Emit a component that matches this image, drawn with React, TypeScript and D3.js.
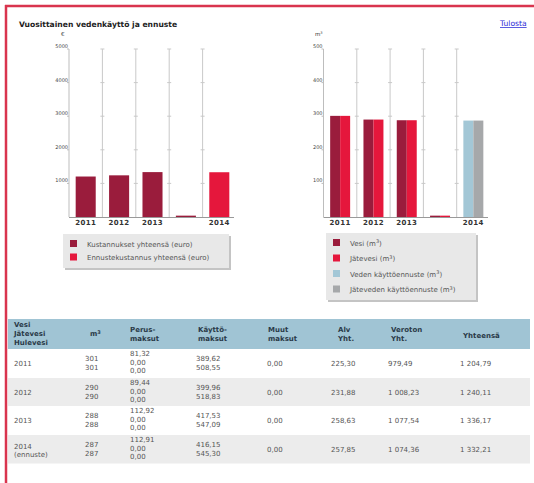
import React from "react";
import * as d3 from "d3";

const W = 534;
const H = 483;

const categories = ["2011", "2012", "2013", "_", "2014"];
const categoryLabels = ["2011", "2012", "2013", "", "2014"];

const costActual = [1204.79, 1240.11, 1336.17, 40, 0];
const costForecast = [0, 0, 0, 0, 1332.21];
const costTicks = [1000, 2000, 3000, 4000, 5000];

const waterVesi = [301, 290, 288, 4, 0];
const waterJatevesi = [301, 290, 288, 4, 0];
const waterVesiForecast = [0, 0, 0, 0, 287];
const waterJateForecast = [0, 0, 0, 0, 287];
const waterTicks = [100, 200, 300, 400, 500];

const costLegend = ["Kustannukset yhteensä (euro)", "Ennustekustannus yhteensä (euro)"];
const waterLegend = ["Vesi (m", "Jätevesi (m", "Veden käyttöennuste (m", "Jäteveden käyttöennuste (m"];

const tableYears = [["2011"], ["2012"], ["2013"], ["2014", "(ennuste)"]];
const tableM3 = [["301", "301"], ["290", "290"], ["288", "288"], ["287", "287"]];
const tablePerus = [["81,32", "0,00", "0,00"], ["89,44", "0,00", "0,00"], ["112,92", "0,00", "0,00"], ["112,91", "0,00", "0,00"]];
const tableKaytto = [["389,62", "508,55"], ["399,96", "518,83"], ["417,53", "547,09"], ["416,15", "545,30"]];
const tableMuut = ["0,00", "0,00", "0,00", "0,00"];
const tableAlv = ["225,30", "231,88", "258,63", "257,85"];
const tableVeroton = ["979,49", "1 008,23", "1 077,54", "1 074,36"];
const tableYhteensa = ["1 204,79", "1 240,11", "1 336,17", "1 332,21"];

const C_DARK = "#9a1c3c";
const C_RED = "#e5173c";
const C_BLUE = "#a3c7d6";
const C_GRAY = "#a6a8aa";
const FONT = "DejaVu Sans, Verdana, sans-serif";

function BarPanel(props: {
  x0: number; x1: number; yTop: number; yBase: number; max: number; ticks: number[];
  unit: React.ReactNode; unitX: number; children: (x: d3.ScaleBand<string>, y: d3.ScaleLinear<number, number>) => React.ReactNode;
}) {
  const { x0, x1, yTop, yBase, max, ticks } = props;
  const x = d3.scaleBand<string>().domain(categories).range([x0, x1]).paddingInner(0.4).paddingOuter(0.2);
  const xb = d3.scaleBand<string>().domain(categories).range([x0, x1]);
  const y = d3.scaleLinear().domain([0, max]).range([yBase, yTop]);
  return (
    <g>
      <text x={props.unitX} y={yTop - 13} fontSize={5.5} fontFamily={FONT} fill="#333">{props.unit}</text>
      {categories.slice(1).map((c) => (
        <line key={c} x1={xb(c)!} x2={xb(c)!} y1={yTop} y2={yBase} stroke="#c9c9c9" strokeWidth={1} />
      ))}
      {categories.slice(1).map((c) =>
        ticks.map((t) => (
          <line key={c + t} x1={xb(c)! - 2} x2={xb(c)! + 2} y1={y(t)} y2={y(t)} stroke="#c9c9c9" strokeWidth={1} />
        ))
      )}
      <line x1={x0} x2={x0} y1={yTop} y2={yBase} stroke="#bdbdbd" strokeWidth={1} />
      {ticks.map((t) => (
        <g key={t}>
          <line x1={x0 - 2} x2={x0} y1={y(t)} y2={y(t)} stroke="#bdbdbd" />
          <text x={x0 - 1} y={y(t) - 1} textAnchor="end" fontSize={5} fontFamily={FONT} fill="#444">{t}</text>
        </g>
      ))}
      {props.children(x, y)}
      <line x1={x0} x2={x1 - 2} y1={yBase + 0.5} y2={yBase + 0.5} stroke="#999" strokeWidth={1} />
      {categories.map((c, i) => (
        <text key={c} x={x(c)! + x.bandwidth() / 2} y={yBase + 7.5} textAnchor="middle" fontSize={7} fontWeight="bold" fontFamily={FONT} fill="#333" letterSpacing={0.4}>
          {categoryLabels[i]}
        </text>
      ))}
    </g>
  );
}

function Legend(props: { x: number; y: number; w: number; h: number; items: string[]; colors: string[]; step: number; sup: boolean }) {
  const { x, y, w, h } = props;
  return (
    <g>
      <rect x={x + 2} y={y + 2} width={w} height={h} fill="#c4c4c4" />
      <rect x={x} y={y} width={w} height={h} fill="#e8e8e8" />
      {props.items.map((t, i) => (
        <g key={t}>
          <rect x={x + 7} y={y + 6 + i * props.step} width={7} height={7} fill={props.colors[i]} />
          <text x={x + 24} y={y + 12.5 + i * props.step} fontSize={7} fontFamily={FONT} fill="#555">
            {t}
            {props.sup ? (
              <>
                <tspan dy={-2.5} fontSize={5}>3</tspan>
                <tspan dy={2.5}>)</tspan>
              </>
            ) : null}
          </text>
        </g>
      ))}
    </g>
  );
}

export default function App() {
  const tableX0 = 8;
  const tableX1 = 530;
  const headTop = 319;
  const headBot = 349;
  const rowTops = [349, 378, 406, 435];
  const rowH = 28.5;
  const txt = { fontSize: 7, fontFamily: FONT, fill: "#555" } as const;
  const hdr = { fontSize: 7, fontFamily: FONT, fill: "#2a3a48", fontWeight: "bold" } as const;

  return (
    <svg width={W} height={H} style={{ position: "absolute", left: 0, top: 0, background: "#fff" }}>
      <rect x={0} y={0} width={W} height={H} fill="#fff" />
      <line x1={5} x2={W} y1={6} y2={6} stroke="#d9344e" strokeWidth={2.5} />
      <line x1={6} x2={6} y1={5} y2={H} stroke="#d9344e" strokeWidth={2.5} />

      <text x={19} y={26.5} fontSize={7.6} fontWeight="bold" fontFamily={FONT} fill="#222">Vuosittainen vedenkäyttö ja ennuste</text>
      <text x={500} y={26} fontSize={7.6} fontFamily={FONT} fill="#2a2ad6" textDecoration="underline">Tulosta</text>

      <BarPanel x0={69} x1={236} yTop={49} yBase={217} max={5000} ticks={costTicks} unit="€" unitX={61}>
        {(x, y) => (
          <g>
            {categories.map((c, i) =>
              costActual[i] > 0 ? (
                <rect key={"a" + c} x={x(c)!} y={y(costActual[i])} width={x.bandwidth()} height={y(0) - y(costActual[i])} fill={C_DARK} />
              ) : null
            )}
            {categories.map((c, i) =>
              costForecast[i] > 0 ? (
                <rect key={"f" + c} x={x(c)!} y={y(costForecast[i])} width={x.bandwidth()} height={y(0) - y(costForecast[i])} fill={C_RED} />
              ) : null
            )}
          </g>
        )}
      </BarPanel>

      <BarPanel x0={323.5} x1={490} yTop={49} yBase={217} max={500} ticks={waterTicks} unit={<>m<tspan dy={-2} fontSize={3.5}>3</tspan></>} unitX={315}>
        {(x, y) => {
          const half = x.bandwidth() / 2;
          const series = [
            { vals: waterVesi, color: C_DARK, off: 0 },
            { vals: waterJatevesi, color: C_RED, off: half },
            { vals: waterVesiForecast, color: C_BLUE, off: 0 },
            { vals: waterJateForecast, color: C_GRAY, off: half },
          ];
          return (
            <g>
              {series.map((s, si) =>
                categories.map((c, i) =>
                  s.vals[i] > 0 ? (
                    <rect key={si + c} x={x(c)! + s.off} y={y(s.vals[i])} width={half} height={y(0) - y(s.vals[i])} fill={s.color} />
                  ) : null
                )
              )}
            </g>
          );
        }}
      </BarPanel>

      <Legend x={63} y={234} w={166} h={34} items={costLegend} colors={[C_DARK, C_RED]} step={13.5} sup={false} />
      <Legend x={326} y={233} w={150} h={67} items={waterLegend} colors={[C_DARK, C_RED, C_BLUE, C_GRAY]} step={15.5} sup={true} />

      {/* table */}
      <rect x={tableX0} y={headTop} width={tableX1 - tableX0} height={headBot - headTop} fill="#a0c4d4" />
      {rowTops.map((t, i) => (
        <rect key={t} x={tableX0} y={t} width={tableX1 - tableX0} height={rowH} fill={i % 2 === 1 ? "#ececec" : "#ffffff"} />
      ))}
      <g>
        <text x={14} y={327} {...hdr}>Vesi</text>
        <text x={14} y={336} {...hdr}>Jätevesi</text>
        <text x={14} y={345} {...hdr}>Hulevesi</text>
        <text x={90} y={336} {...hdr}>m<tspan dy={-2.5} fontSize={5}>3</tspan></text>
        <text x={130} y={332} {...hdr}>Perus-</text>
        <text x={130} y={341} {...hdr}>maksut</text>
        <text x={198} y={332} {...hdr}>Käyttö-</text>
        <text x={198} y={341} {...hdr}>maksut</text>
        <text x={268} y={332} {...hdr}>Muut</text>
        <text x={268} y={341} {...hdr}>maksut</text>
        <text x={338} y={332} {...hdr}>Alv</text>
        <text x={338} y={341} {...hdr}>Yht.</text>
        <text x={391} y={332} {...hdr}>Veroton</text>
        <text x={391} y={341} {...hdr}>Yht.</text>
        <text x={463} y={338} {...hdr}>Yhteensä</text>
      </g>
      {rowTops.map((t, i) => {
        const yearLines = tableYears[i];
        return (
          <g key={"r" + t}>
            {yearLines.map((s, k) => (
              <text key={s} x={14} y={yearLines.length === 1 ? t + 17 + k * 8.5 : t + 13.5 + k * 8.5} {...txt}>{s}</text>
            ))}
            {tableM3[i].map((s, k) => (
              <text key={k} x={85} y={t + 12 + k * 8.5} {...txt}>{s}</text>
            ))}
            {tablePerus[i].map((s, k) => (
              <text key={k} x={130} y={t + 7 + k * 8.5} {...txt}>{s}</text>
            ))}
            {tableKaytto[i].map((s, k) => (
              <text key={k} x={196} y={t + 12 + k * 8.5} {...txt}>{s}</text>
            ))}
            <text x={267} y={t + 16.5} {...txt}>{tableMuut[i]}</text>
            <text x={331} y={t + 16.5} {...txt}>{tableAlv[i]}</text>
            <text x={388} y={t + 16.5} {...txt}>{tableVeroton[i]}</text>
            <text x={460} y={t + 16.5} {...txt}>{tableYhteensa[i]}</text>
          </g>
        );
      })}
    </svg>
  );
}
